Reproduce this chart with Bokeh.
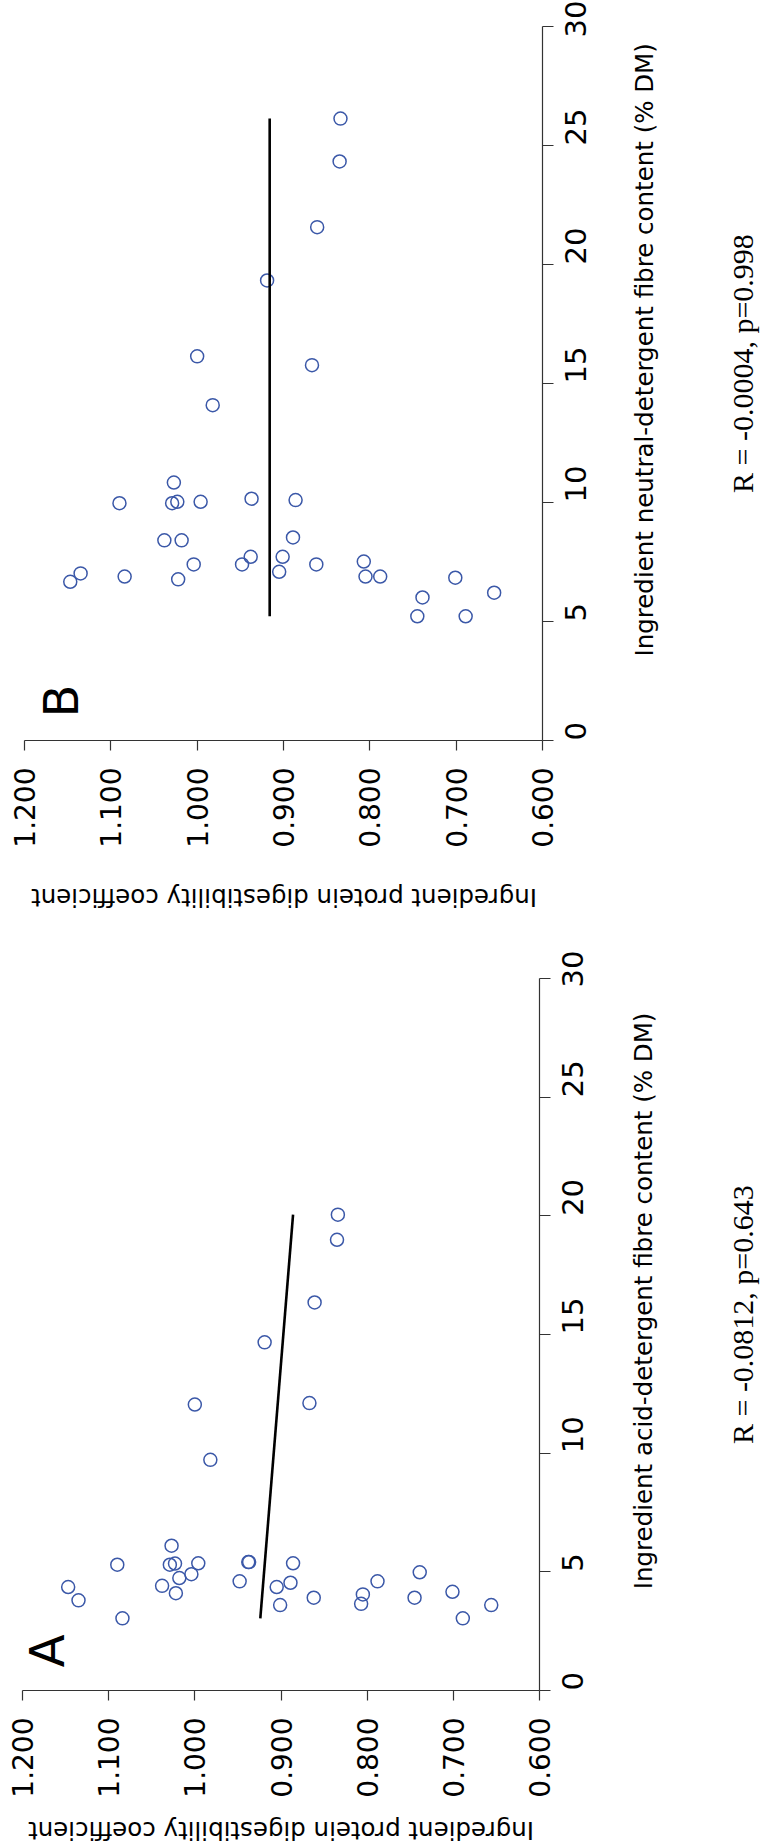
import math

from bokeh.embed import file_html
from bokeh.layouts import column, row
from bokeh.models import (ColumnDataSource, FixedTicker, Label, LinearAxis,
                          NumeralTickFormatter, Range1d)
from bokeh.plotting import figure
from bokeh.resources import INLINE

# Ingredient protein digestibility coefficient (one value per ingredient)
digestibility = [1.147, 1.135, 1.090, 1.084, 1.038, 1.029, 1.027, 1.023, 1.022,
                 1.018, 1.004, 1.000, 0.996, 0.982, 0.948, 0.938, 0.937, 0.919,
                 0.905, 0.901, 0.889, 0.886, 0.867, 0.862, 0.861, 0.835, 0.834,
                 0.807, 0.805, 0.788, 0.745, 0.739, 0.701, 0.689, 0.656]

# Acid-detergent fibre content (% DM), same ingredient order
adf = [4.36, 3.80, 5.30, 3.04, 4.41, 5.30, 6.10, 5.35, 4.10,
       4.74, 4.90, 12.05, 5.36, 9.72, 4.60, 5.41, 5.41, 14.67,
       4.36, 3.60, 4.54, 5.36, 12.11, 3.91, 16.35, 18.99, 20.05,
       3.65, 4.05, 4.60, 3.91, 4.98, 4.16, 3.04, 3.60]

# Neutral-detergent fibre content (% DM), same ingredient order
ndf = [6.67, 7.02, 9.97, 6.89, 8.41, 9.97, 10.84, 10.03, 6.77,
       8.41, 7.40, 16.14, 10.03, 14.09, 7.40, 7.72, 10.16, 19.33,
       7.09, 7.72, 8.53, 10.10, 15.77, 7.40, 21.57, 24.33, 26.13,
       7.52, 6.89, 6.89, 5.22, 6.01, 6.84, 5.22, 6.21]

# Fitted regression lines (fibre extent, predicted digestibility)
fit_adf = [3.04, 20.05]
fit_adf_dig = [0.924, 0.886]
fit_ndf = [5.22, 26.13]
fit_ndf_dig = [0.916, 0.916]

dig_ticks = [0.6, 0.7, 0.8, 0.9, 1.0, 1.1, 1.2]
fibre_ticks = [0, 5, 10, 15, 20, 25, 30]

stats_adf = "R = -0.0812, p=0.643"
stats_ndf = "R = -0.0004, p=0.998"

dig_title = "Ingredient protein digestibility coefficient"
adf_title = "Ingredient acid-detergent fibre content (% DM)"
ndf_title = "Ingredient neutral-detergent fibre content (% DM)"

SANS = "DejaVu Sans"
SERIF = "Liberation Serif"
POINT = "#3B58A8"
AXIS = "#333333"

MAIN_W, MAIN_H = 630, 860
PAGE_W = 763


def blank(width, height):
    """A plain canvas measured in pixels from its top-left corner."""
    p = figure(width=width, height=height,
               x_range=Range1d(0, width), y_range=Range1d(height, 0),
               x_axis_location=None, y_axis_location=None,
               output_backend="svg", toolbar_location=None, min_border=0)
    p.xgrid.grid_line_color = None
    p.ygrid.grid_line_color = None
    p.outline_line_color = None
    p.background_fill_color = "white"
    p.border_fill_color = "white"
    return p


def text(p, x, y, s, angle, font, size):
    p.add_layout(Label(x=x, y=y, text=s, angle=angle, text_align="center",
                       text_baseline="alphabetic", text_font=font,
                       text_font_size=size, text_color="black"))


def scatter_panel(fibre, fit_x, fit_y, letter, letter_xy, border):
    left, right, top, bottom = border
    p = figure(width=MAIN_W, height=MAIN_H,
               x_range=Range1d(1.2, 0.6), y_range=Range1d(0, 30),
               x_axis_location=None, y_axis_location=None,
               output_backend="svg", toolbar_location=None,
               min_border_left=left, min_border_right=right,
               min_border_top=top, min_border_bottom=bottom)
    p.xgrid.grid_line_color = None
    p.ygrid.grid_line_color = None
    p.outline_line_color = None
    p.background_fill_color = "white"
    p.border_fill_color = "white"

    xa = LinearAxis(ticker=FixedTicker(ticks=dig_ticks),
                    formatter=NumeralTickFormatter(format="0.000"),
                    axis_line_color=AXIS, axis_line_width=1.2,
                    major_tick_line_color=AXIS, major_tick_line_width=1.2,
                    major_tick_out=10, major_tick_in=0,
                    minor_tick_out=0, minor_tick_in=0,
                    major_label_orientation=math.pi / 2,
                    major_label_standoff=17,
                    major_label_text_font=SANS,
                    major_label_text_font_size="28px",
                    major_label_text_color="black")
    p.add_layout(xa, "below")

    ya = LinearAxis(ticker=FixedTicker(ticks=fibre_ticks),
                    axis_line_color=AXIS, axis_line_width=1.2,
                    major_tick_line_color=AXIS, major_tick_line_width=1.2,
                    major_tick_out=11, major_tick_in=0,
                    minor_tick_out=0, minor_tick_in=0,
                    major_label_orientation=math.pi / 2,
                    major_label_standoff=22,
                    major_label_text_font=SANS,
                    major_label_text_font_size="29px",
                    major_label_text_color="black")
    p.add_layout(ya, "right")

    src = ColumnDataSource(data=dict(dig=digestibility, fibre=fibre))
    p.scatter(x="dig", y="fibre", source=src, marker="circle", size=13,
              fill_color=None, line_color=POINT, line_width=1.5)
    p.line(x=fit_y, y=fit_x, line_color="black", line_width=2.6)

    text(p, letter_xy[0], letter_xy[1], letter, math.pi / 2, SANS, "48px")
    return p


def side_panel(fibre_title, stats, title_x):
    p = blank(PAGE_W - MAIN_W, MAIN_H)
    text(p, title_x, 389.5, fibre_title, math.pi / 2, SANS, "24.5px")
    text(p, 112, 406, stats, math.pi / 2, SERIF, "30px")
    return p


def title_strip(height, y, center_x):
    p = blank(PAGE_W, height)
    text(p, center_x, y, dig_title, math.pi, SANS, "24.5px")
    return p


# Panel B: neutral-detergent fibre
main_ndf = scatter_panel(ndf, fit_ndf, fit_ndf_dig, "B", (1.158, 1.66),
                         (24, MAIN_W - 542, 26, MAIN_H - 740))
side_ndf = side_panel(ndf_title, stats_ndf, 14)
strip_ndf = title_strip(90, 37, 283.5)

# Panel A: acid-detergent fibre
main_adf = scatter_panel(adf, fit_adf, fit_adf_dig, "A", (1.171, 1.67),
                         (22, MAIN_W - 539, 28, MAIN_H - 740))
side_adf = side_panel(adf_title, stats_adf, 12.6)
strip_adf = title_strip(37, 20, 280.5)

layout = column(row(main_ndf, side_ndf, spacing=0), strip_ndf,
                row(main_adf, side_adf, spacing=0), strip_adf, spacing=0)

with open("out.html", "w") as f:
    f.write(file_html(layout, INLINE))
